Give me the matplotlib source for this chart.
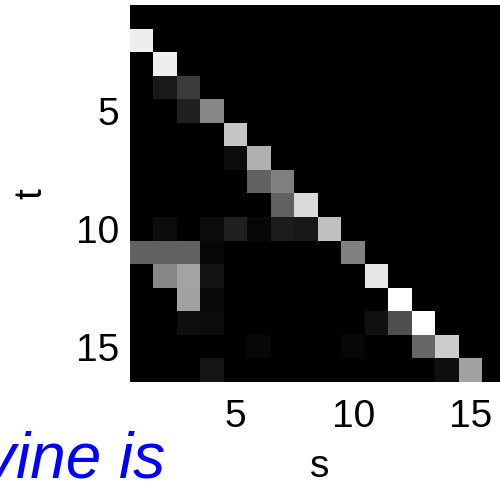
import numpy as np
import matplotlib.pyplot as plt

plt.rcParams['font.family'] = ['Liberation Sans', 'DejaVu Sans']

N = 16

# main band: weight of (t = s + 1, s) for s = 1..15
subdiag = [0.93, 0.93, 0.24, 0.53, 0.77, 0.69, 0.50, 0.85,
           0.75, 0.50, 0.90, 1.00, 1.00, 0.80, 0.63]

# remaining nonzero entries (1-based t, s)
off_t = [4, 5, 7, 8, 9,
         10, 10, 10, 10, 10, 10,
         11, 11, 11, 11,
         12, 12, 12,
         13, 13,
         14, 14, 14, 14,
         15, 15, 15,
         16, 16]
off_s = [2, 3, 5, 6, 7,
         2, 4, 5, 6, 7, 8,
         1, 2, 3, 4,
         2, 3, 4,
         3, 4,
         3, 4, 11, 12,
         6, 10, 13,
         4, 14]
off_w = [0.10, 0.125, 0.05, 0.38, 0.38,
         0.05, 0.05, 0.125, 0.03, 0.11, 0.09,
         0.38, 0.38, 0.38, 0.03,
         0.53, 0.64, 0.08,
         0.63, 0.04,
         0.055, 0.05, 0.07, 0.31,
         0.03, 0.03, 0.40,
         0.085, 0.06]

W = np.zeros((N, N))
for s, w in enumerate(subdiag, start=1):
    W[s, s - 1] = w
for t, s, w in zip(off_t, off_s, off_w):
    W[t - 1, s - 1] = w

fig = plt.figure(figsize=(5, 4.84), dpi=100)
ax = fig.add_axes([0.26, 1 - 382 / 484, 0.752, 377 / 484])
ax.imshow(W, cmap='gray', vmin=0, vmax=1, interpolation='nearest',
          extent=(0.5, N + 0.5, N + 0.5, 0.5), aspect='auto')

ax.set_xticks([5, 10, 15])
ax.set_yticks([5, 10, 15])
ax.tick_params(length=0, labelsize=28)
ax.tick_params(axis='x', pad=12)
ax.tick_params(axis='y', pad=8)
for sp in ax.spines.values():
    sp.set_visible(False)

ax.set_xlabel('s', fontsize=28)
ax.set_ylabel('t', fontsize=28, rotation=90)
ax.xaxis.set_label_coords(0.505, -0.178)
ax.yaxis.set_label_coords(-0.215, 0.5)

fig.text(165 / 500, 1 - 478 / 484, 'vine is', color='blue', style='italic',
         fontsize=46, ha='right', va='baseline')

fig.savefig('out.png', dpi=100)
